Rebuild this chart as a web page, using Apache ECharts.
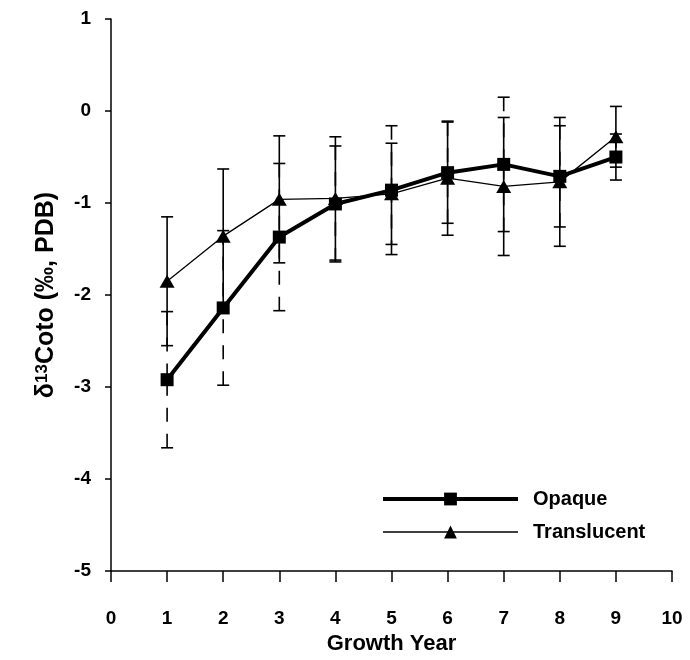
<!DOCTYPE html>
<html>
<head>
<meta charset="utf-8">
<script src="https://cdn.jsdelivr.net/npm/echarts@6/dist/echarts.min.js"></script>
<style>
  html, body { margin: 0; padding: 0; background: #fff; }
  #chart { width: 690px; height: 660px; }
</style>
</head>
<body>
<div id="chart"></div>
<script>
// Growth years on the x axis
const years = [1, 2, 3, 4, 5, 6, 7, 8, 9];

// Opaque zones: mean δ13C and ± error
const opaqueMean = [-2.92, -2.14, -1.37, -1.01, -0.86, -0.67, -0.58, -0.71, -0.50];
const opaqueErr  = [0.74, 0.84, 0.80, 0.63, 0.70, 0.55, 0.73, 0.55, 0.25];

// Translucent zones: mean δ13C and ± error
const translucentMean = [-1.85, -1.36, -0.96, -0.95, -0.90, -0.73, -0.82, -0.77, -0.28];
const translucentErr  = [0.70, 0.73, 0.69, 0.67, 0.55, 0.62, 0.75, 0.70, 0.33];

const FONT = 'Liberation Sans';

function pairs(xs, ys) {
  return xs.map((x, i) => [x, ys[i]]);
}

// Vertical error bar with end caps; each half is drawn from its cap toward the mean
function errorBarSeries(means, errs, dashed) {
  return {
    type: 'custom',
    silent: true,
    z: 1,
    encode: { x: 0, y: [1, 2] },
    data: years.map((x, i) => [x, means[i] - errs[i], means[i] + errs[i], means[i]]),
    renderItem: function (params, api) {
      const x = api.value(0);
      const lo = api.coord([x, api.value(1)]);
      const hi = api.coord([x, api.value(2)]);
      const mid = api.coord([x, api.value(3)]);
      const half = 6;
      const stem = {
        stroke: '#000',
        lineWidth: 1.6,
        lineDash: dashed ? [14, 12] : null
      };
      const cap = { stroke: '#000', lineWidth: 1.6 };
      return {
        type: 'group',
        children: [
          { type: 'line', shape: { x1: hi[0], y1: hi[1], x2: mid[0], y2: mid[1] }, style: stem },
          { type: 'line', shape: { x1: lo[0], y1: lo[1], x2: mid[0], y2: mid[1] }, style: stem },
          { type: 'line', shape: { x1: hi[0] - half, y1: hi[1], x2: hi[0] + half, y2: hi[1] }, style: cap },
          { type: 'line', shape: { x1: lo[0] - half, y1: lo[1], x2: lo[0] + half, y2: lo[1] }, style: cap }
        ]
      };
    }
  };
}

const chart = echarts.init(document.getElementById('chart'), null, { renderer: 'canvas' });

chart.setOption({
  backgroundColor: '#fff',
  animation: false,
  grid: { left: 111, right: 18, top: 19, bottom: 83 },
  legend: {
    orient: 'vertical',
    left: 376,
    top: 484,
    itemWidth: 135,
    itemHeight: 16,
    itemGap: 13,
    lineStyle: { width: 'inherit' },
    textStyle: {
      fontFamily: FONT,
      fontSize: 20,
      fontWeight: 'bold',
      lineHeight: 20,
      color: '#000',
      padding: [0, 0, 0, 10]
    },
    data: ['Opaque', 'Translucent']
  },
  xAxis: {
    type: 'value',
    min: 0,
    max: 10,
    interval: 1,
    name: 'Growth Year',
    nameLocation: 'middle',
    nameGap: 58,
    nameTextStyle: { fontFamily: FONT, fontSize: 22, fontWeight: 'bold', color: '#000' },
    axisLine: { onZero: false, lineStyle: { color: '#000', width: 1.5 } },
    axisTick: { show: true, length: 11, lineStyle: { color: '#000', width: 1.5 } },
    axisLabel: { fontFamily: FONT, fontSize: 19, fontWeight: 'bold', color: '#000', margin: 38 },
    splitLine: { show: false }
  },
  yAxis: {
    type: 'value',
    min: -5,
    max: 1,
    interval: 1,
    name: '{a|δ}{s|13}{a|Coto (‰, PDB)}',
    nameLocation: 'middle',
    nameGap: 52,
    nameRotate: 90,
    nameTextStyle: {
      fontFamily: FONT,
      fontSize: 25,
      fontWeight: 'bold',
      color: '#000',
      rich: {
        a: { fontFamily: FONT, fontSize: 25, fontWeight: 'bold', color: '#000' },
        s: { fontFamily: FONT, fontSize: 17, fontWeight: 'bold', color: '#000', verticalAlign: 'top', padding: [0, 0, 8, 0] }
      }
    },
    axisLine: { onZero: false, lineStyle: { color: '#000', width: 1.5 } },
    axisTick: { show: true, length: 6, lineStyle: { color: '#000', width: 1.5 } },
    axisLabel: { fontFamily: FONT, fontSize: 19, fontWeight: 'bold', color: '#000', margin: 20 },
    splitLine: { show: false }
  },
  series: [
    errorBarSeries(translucentMean, translucentErr, false),
    errorBarSeries(opaqueMean, opaqueErr, true),
    {
      name: 'Translucent',
      type: 'line',
      z: 3,
      data: pairs(years, translucentMean),
      symbol: 'triangle',
      symbolSize: [15, 13],
      lineStyle: { color: '#000', width: 1.3 },
      itemStyle: { color: '#000' }
    },
    {
      name: 'Opaque',
      type: 'line',
      z: 4,
      data: pairs(years, opaqueMean),
      symbol: 'rect',
      symbolSize: 13,
      lineStyle: { color: '#000', width: 4 },
      itemStyle: { color: '#000' }
    }
  ]
});
</script>
</body>
</html>
